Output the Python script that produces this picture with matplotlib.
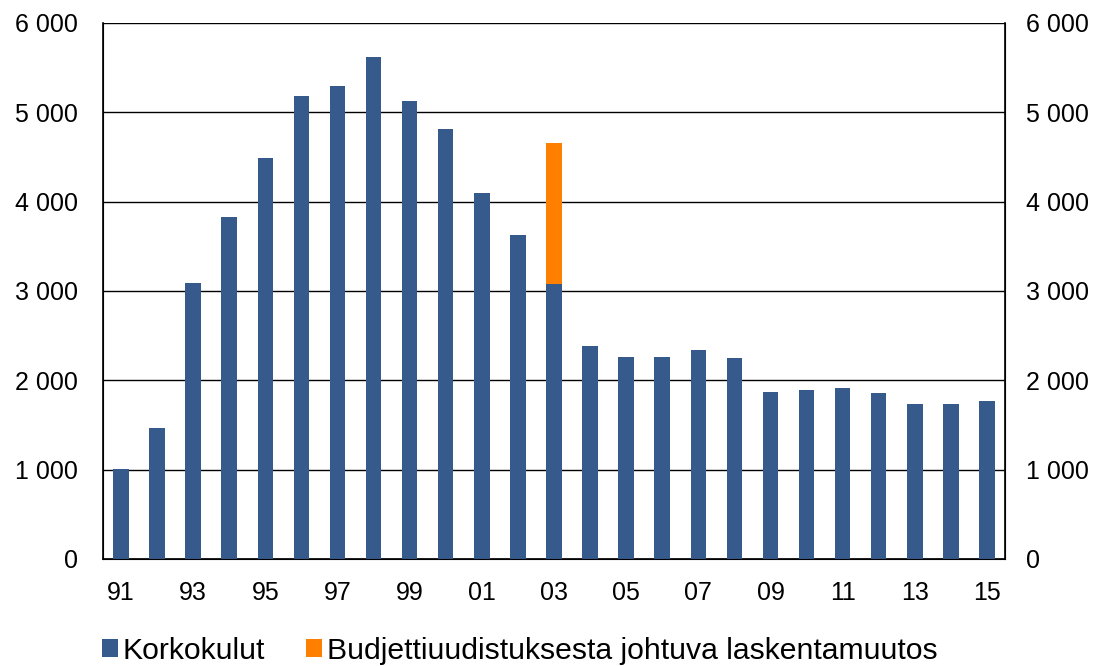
import matplotlib
matplotlib.use("Agg")
import matplotlib.pyplot as plt
from matplotlib.ticker import FuncFormatter

years = list(range(1991, 2016))
korkokulut = [1010, 1470, 3090, 3830, 4490, 5185, 5295, 5620, 5130, 4815,
              4100, 3630, 3080, 2385, 2262, 2262, 2340, 2250, 1870, 1893,
              1915, 1860, 1736, 1736, 1770]
muutos = [0] * 25
muutos[years.index(2003)] = 1580
tick_labels = [f"{y % 100:02d}" if (y - 1991) % 2 == 0 else "" for y in years]

blue = "#365a8c"
orange = "#ff8000"

plt.rcParams["font.family"] = ["Liberation Sans", "DejaVu Sans"]

fig = plt.figure(figsize=(11, 6.66), dpi=100)
ax = fig.add_axes([0.0936, 0.1607, 0.82, 0.8048])

x = range(len(years))
ax.bar(x, korkokulut, width=0.43, color=blue, label="Korkokulut", zorder=3)
ax.bar(x, muutos, width=0.43, bottom=korkokulut, color=orange,
       label="Budjettiuudistuksesta johtuva laskentamuutos", zorder=3)

ax.set_xlim(-0.5, len(years) - 0.5)
ax.set_ylim(0, 6000)
ax.set_yticks(range(0, 6001, 1000))
fmt = FuncFormatter(lambda v, p: f"{int(v):,}".replace(",", " "))
ax.yaxis.set_major_formatter(fmt)
ax.grid(axis="y", color="black", linewidth=1, zorder=0)
ax.set_xticks(list(x))
ax.set_xticklabels(tick_labels)
ax.tick_params(axis="both", length=0, labelsize=18)
ax.tick_params(axis="x", pad=16)
ax.tick_params(axis="y", pad=18)

ax.spines["top"].set_visible(False)
for s in ["left", "right", "bottom"]:
    ax.spines[s].set_color("black")
    ax.spines[s].set_linewidth(1.2)

ax2 = ax.twinx()
ax2.set_ylim(0, 6000)
ax2.set_yticks(range(0, 6001, 1000))
ax2.yaxis.set_major_formatter(fmt)
ax2.tick_params(axis="y", length=0, labelsize=18, pad=15)
ax2.spines["top"].set_visible(False)

fig.legend(loc="center", bbox_to_anchor=(0.4723, 0.0225), ncol=2,
           frameon=False, fontsize=21.7, handlelength=0.53, handleheight=0.53,
           handletextpad=0.15, columnspacing=1.37, borderpad=0)

fig.savefig("out.png", dpi=100)
